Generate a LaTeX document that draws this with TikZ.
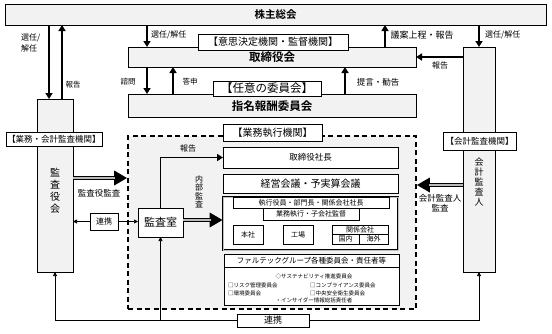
\documentclass[tikz,border=0pt]{standalone}
\usepackage{fontspec}
\setmainfont{Noto Sans CJK JP}[BoldFont={Noto Sans CJK JP Bold}]
\usetikzlibrary{arrows.meta}
\definecolor{bg}{HTML}{F2F2F2}
\newcommand{\myfs}[1]{\fontsize{#1}{#1}\selectfont}
\begin{document}
\begin{tikzpicture}[x=1pt,y=-1pt,
  box/.style={draw, line width=0.7pt, fill=white, inner sep=0pt, outer sep=0pt},
  gbox/.style={box, fill=bg},
  lbl/.style={inner sep=0pt},
  arr/.style={line width=1.8pt, -{Triangle[length=6pt,width=7pt]}},
  tarr/.style={line width=0.6pt, -{Triangle[length=4pt,width=4pt]}},
  darr/.style={line width=4.5pt, -{Triangle[length=13pt,width=14pt]}},
  dmid/.style={line width=1.4pt, gray!55, shorten >=12pt},
]
\useasboundingbox (0,0) rectangle (552,333);

% execution area
\node[draw, fill=bg, line width=1.6pt, dash pattern=on 5pt off 3.5pt, minimum width=288pt, minimum height=173pt, inner sep=0pt] (exec) at (272,222.5) {};

% top boxes
\node[gbox, minimum width=541pt, minimum height=21pt, font=\bfseries\myfs{10.5}] (kabu) at (275.5,14.5) {株主総会};
\node[gbox, minimum width=288pt, minimum height=20pt, font=\bfseries\myfs{11.5}, text depth=-3pt] (tori) at (272,57) {取締役会};
\node[gbox, minimum width=288pt, minimum height=23pt, font=\bfseries\myfs{11.5}, text depth=-3pt] (shimei) at (272,105.5) {指名報酬委員会};
\node[box, minimum width=150pt, minimum height=16pt, font=\myfs{10}] (l1) at (273,42) {【意思決定機関・監督機関】};
\node[box, minimum width=108pt, minimum height=15pt, font=\myfs{11.5}] (l2) at (267,88.5) {【任意の委員会】};

% side boxes
\node[gbox, minimum width=36pt, minimum height=173pt] (kansayaku) at (55,185.5) {};
\node[lbl, align=center, font=\fontsize{10}{12}\selectfont] (kansayakutxt) at (55,191) {監\\査\\役\\会};
\node[box, minimum width=96pt, minimum height=14pt, font=\myfs{8.5}] (l3) at (54,139) {【業務・会計監査機関】};

\node[gbox, minimum width=32pt, minimum height=225pt] (kaikei) at (479,159.5) {};
\node[lbl, align=center, font=\fontsize{9}{10}\selectfont] (kaikeitxt) at (479,182) {会\\計\\監\\査\\人};
\node[box, minimum width=73pt, minimum height=18pt, font=\myfs{8.5}] (l4) at (479.5,141) {【会計監査機関】};

% execution contents
\node[box, minimum width=99pt, minimum height=17pt, font=\myfs{10}] (l5) at (272.5,132.5) {【業務執行機関】};
\node[box, minimum width=175pt, minimum height=21pt, font=\myfs{8.5}] (pres) at (310.5,157.5) {取締役社長};
\node[box, minimum width=175pt, minimum height=19pt, font=\myfs{10}] (keiei) at (310.5,183.5) {経営会議・予実算会議};
\node[draw=black, double=gray!50, double distance=0.9pt, line width=0.6pt, fill=white, inner sep=0pt, minimum width=175pt, minimum height=53pt] (big) at (310.5,223.5) {};
\node[box, minimum width=156pt, minimum height=11pt, font=\myfs{7}] (yakuin) at (311,202.5) {執行役員・部門長・関係会社社長};
\node[box, minimum width=96pt, minimum height=12pt, font=\myfs{7}] (gyomu) at (311,214) {業務執行・子会社監督};
\node[box, minimum width=30pt, minimum height=19pt, font=\myfs{7}] (honsha) at (248,234.5) {本社};
\node[box, minimum width=30pt, minimum height=19pt, font=\myfs{7}] (kojo) at (298,234.5) {工場};
\node[box, minimum width=56pt, minimum height=9pt, font=\myfs{7}] (kankei) at (360,229.5) {関係会社};
\node[box, minimum width=27pt, minimum height=10pt, font=\myfs{7}] (kokunai) at (345.5,239) {国内};
\node[box, minimum width=29pt, minimum height=10pt, font=\myfs{7}] (kaigai) at (373.5,239) {海外};

\node[box, minimum width=175pt, minimum height=51pt] (fal) at (311.5,280) {};
\draw[line width=0.7pt] (fal.west |- 0,267) -- (fal.east |- 0,267);
\node[lbl, font=\myfs{7.5}] (falh) at (311.5,261) {ファルテックグループ各種委員会・責任者等};
\node[lbl, font=\myfs{5.5}] (c1) at (314,276) {◇サステナビリティ推進委員会};
\node[lbl, anchor=west, font=\myfs{5.5}] (c2) at (228,285) {□リスク管理委員会};
\node[lbl, anchor=west, font=\myfs{5.5}] (c3) at (310,285) {□コンプライアンス委員会};
\node[lbl, anchor=west, font=\myfs{5.5}] (c4) at (228,293) {□環境委員会};
\node[lbl, anchor=west, font=\myfs{5.5}] (c5) at (310,293) {□中央安全衛生委員会};
\node[lbl, font=\myfs{5.5}] (c6) at (314,300.5) {・インサイダー情報総括責任者};

\node[box, minimum width=45pt, minimum height=29pt, font=\myfs{11}] (kansashitsu) at (160.5,222.5) {監査室};
\node[box, minimum width=28pt, minimum height=17pt, font=\myfs{8}] (renkei1) at (104,221.5) {連携};
\node[box, minimum width=72pt, minimum height=13pt, font=\myfs{9}] (renkei2) at (273,320.5) {連携};

% thick arrows
\draw[arr] (kabu.south -| 49,0) -- (kansayaku.north -| 49,0);
\draw[arr] (kansayaku.north -| 62,0) -- (kabu.south -| 62,0);
\draw[arr] (kabu.south -| 147,0) -- (tori.north -| 147,0);
\draw[arr] (tori.north -| 385,0) -- (kabu.south -| 385,0);
\draw[arr] (kabu.south -| kaikei.north) -- (kaikei.north);
\draw[arr] (kaikei.west |- tori.east) -- (tori.east);
\draw[arr] (tori.south -| 147,0) -- (shimei.north -| 147,0);
\draw[arr] (shimei.north -| 173,0) -- (tori.south -| 173,0);
\draw[arr] (shimei.north -| 345,0) -- (tori.south -| 345,0);
\draw[arr] (kansashitsu.north) |- (pres.west);

% double audit arrows
\draw[darr] (kansayaku.east |- 0,178) -- (exec.west |- 0,178);
\draw[dmid] (kansayaku.east |- 0,178) -- (exec.west |- 0,178);
\draw[darr] (kaikei.west |- 0,185) -- (exec.east |- 0,185);
\draw[dmid] (kaikei.west |- 0,185) -- (exec.east |- 0,185);
\draw[darr] (kansashitsu.east |- 0,220) -- (big.west |- 0,220);
\draw[dmid] (kansashitsu.east |- 0,220) -- (big.west |- 0,220);

% thin links
\draw[tarr] (renkei1.west) -- (kansayaku.east |- renkei1.west);
\draw[tarr] (renkei1.east) -- (kansashitsu.west |- renkei1.east);
\draw[tarr] (renkei2.west) -| (kansayaku.south);
\draw[tarr] (renkei2.east) -| (kaikei.south);
\draw[tarr] (kansashitsu.south |- renkei2.west) -- (kansashitsu.south);

% labels
\node[lbl, align=left, anchor=west, font=\fontsize{8}{11}\selectfont] (t1) at (21,43) {選任/\\解任};
\node[lbl, font=\myfs{7.5}] (t2) at (73,85) {報告};
\node[lbl, anchor=west, font=\myfs{8}] (t3) at (151,35) {選任/解任};
\node[lbl, font=\myfs{7.5}] (t4) at (128,82) {諮問};
\node[lbl, font=\myfs{7.5}] (t5) at (190,82) {答申};
\node[lbl, font=\myfs{9}] (t6) at (422,35) {議案上程・報告};
\node[lbl, font=\myfs{8.5}] (t7) at (378,82) {提言・勧告};
\node[lbl, anchor=west, font=\myfs{8}] (t8) at (485,35) {選任/解任};
\node[lbl, font=\myfs{8}] (t9) at (440,65) {報告};
\node[lbl, font=\myfs{8.5}] (t10) at (99,193) {監査役監査};
\node[lbl, align=center, font=\fontsize{8.5}{9.5}\selectfont] (t11) at (440,203) {会計監査人\\監査};
\node[lbl, align=center, font=\fontsize{8}{8.5}\selectfont] (t12) at (199,192) {内\\部\\監\\査};
\node[lbl, font=\myfs{8}] (t13) at (188,148) {報告};
\end{tikzpicture}
\end{document}
